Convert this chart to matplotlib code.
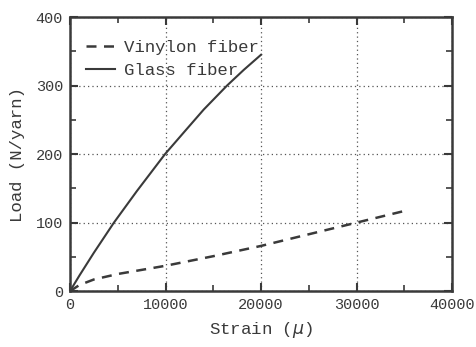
import numpy as np
import matplotlib.pyplot as plt
from matplotlib.ticker import MultipleLocator

# load-strain curves of the two yarns
glass_strain = [0, 1000, 2500, 4600, 7000, 9950, 12000, 14000, 16440, 18200, 20000]
glass_load = [0, 23, 56, 100, 146, 200, 233, 265, 300, 323, 345]

vinylon_strain = [0, 1000, 2500, 5000, 7500, 10000, 15000, 20000, 25000, 30000, 35000]
vinylon_load = [0, 9, 17, 25, 31, 37, 51, 66, 83, 100, 117]

ink = '#3a3a3a'
plt.rcParams['font.family'] = ['Liberation Mono', 'DejaVu Sans']

fig = plt.figure(figsize=(4.76, 3.47), dpi=100)
ax = fig.add_axes([0.147, 0.161, 0.803, 0.790])

ax.plot(vinylon_strain, vinylon_load, color=ink, lw=1.8, dashes=(4, 3),
        label='Vinylon fiber')
ax.plot(glass_strain, glass_load, color=ink, lw=1.5, label='Glass fiber')

ax.set_xlim(0, 40000)
ax.set_ylim(0, 400)
ax.xaxis.set_major_locator(MultipleLocator(10000))
ax.xaxis.set_minor_locator(MultipleLocator(5000))
ax.yaxis.set_major_locator(MultipleLocator(100))
ax.yaxis.set_minor_locator(MultipleLocator(50))

ax.grid(True, which='major', ls=(0, (1, 2.5)), color='#555555', lw=0.9)
ax.tick_params(which='both', direction='in', top=True, right=True,
               color=ink, labelcolor=ink, labelsize=11, pad=5)
ax.tick_params(which='major', length=6, width=1.5)
ax.tick_params(which='minor', length=4, width=1.2)
for s in ax.spines.values():
    s.set_color(ink)
    s.set_linewidth(1.8)

ax.set_xlabel('Strain ($\\mu$)', fontsize=12.5, color=ink, labelpad=6)
ax.set_ylabel('Load (N/yarn)', fontsize=12.5, color=ink, labelpad=8)

ax.legend(loc='upper left', bbox_to_anchor=(0.0, 0.975), frameon=False,
          fontsize=12.5, handlelength=1.7, handletextpad=0.5,
          labelspacing=0.45, labelcolor=ink)

fig.savefig('out.png', dpi=100)
